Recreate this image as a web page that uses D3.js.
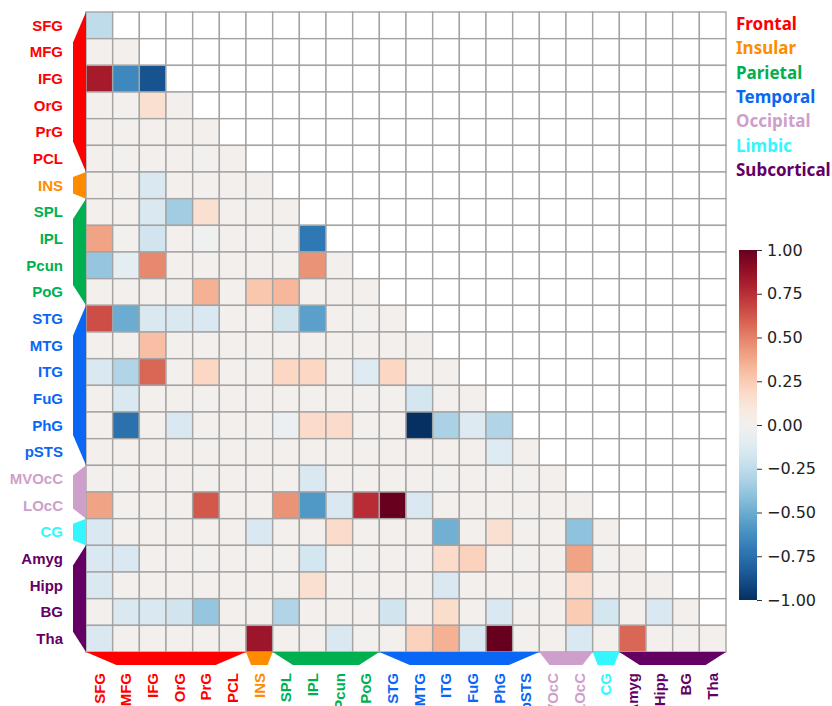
<!DOCTYPE html>
<html lang="en">
<head>
  <meta charset="UTF-8">
  <title>connectivity matrix</title>
  <style>
body { margin: 0; background: #fff; }
svg { display: block; }
  </style>
</head>
<body>
<div id="wrapper"></div>
<script src="https://cdnjs.cloudflare.com/ajax/libs/d3/7.8.5/d3.min.js"></script>
<script>

// region labels, in matrix order
const regions = ["SFG", "MFG", "IFG", "OrG", "PrG", "PCL", "INS", "SPL", "IPL", "Pcun", "PoG",
  "STG", "MTG", "ITG", "FuG", "PhG", "pSTS", "MVOcC", "LOcC", "CG", "Amyg", "Hipp", "BG", "Tha"]

// bottom labels (the long ones run off the page edge in the original)
const bottomLabels = ["SFG", "MFG", "IFG", "OrG", "PrG", "PCL", "INS", "SPL", "IPL", "Pcun", "PoG",
  "STG", "MTG", "ITG", "FuG", "PhG", "pSTS", "MVOcC", "LOcC", "CG", "Amyg", "Hipp", "BG", "Tha"]

const groupNames = ["Frontal", "Insular", "Parietal", "Temporal", "Occipital", "Limbic", "Subcortical"]
const groupColors = ["#ff0000", "#ff8c00", "#00b050", "#0a66f5", "#cf9fcb", "#33f6ff", "#640064"]
// how many regions in each group
const groupSizes = [6, 1, 4, 6, 2, 1, 4]

// lower triangle incl. diagonal, one row per region
const rows = [
  [-0.25],
  [0.01, 0.01],
  [0.82, -0.65, -0.87],
  [0.01, 0.01, 0.15, 0.01],
  [0.01, 0.01, 0.01, 0.01, 0.01],
  [0.01, 0.01, 0.01, 0.01, 0.01, 0.01],
  [0.01, 0.01, -0.15, 0.01, 0.01, 0.01, 0.01],
  [0.01, 0.01, -0.15, -0.35, 0.15, 0.01, 0.01, 0.01],
  [0.4, 0.01, -0.18, 0.01, -0.02, 0.01, 0.01, 0.01, -0.72],
  [-0.38, -0.1, 0.48, 0.01, 0.01, 0.01, 0.01, 0.01, 0.45, 0.01],
  [0.01, 0.01, 0.01, 0.01, 0.35, 0.01, 0.27, 0.33, 0.01, 0.01, 0.01],
  [0.65, -0.5, -0.15, -0.15, -0.15, 0.01, 0.01, -0.18, -0.55, 0.01, 0.01, 0.01],
  [0.01, 0.01, 0.3, 0.01, 0.01, 0.01, 0.01, 0.01, 0.01, 0.01, 0.01, 0.01, 0.01],
  [-0.15, -0.3, 0.58, 0.01, 0.2, 0.01, 0.01, 0.2, 0.2, 0.01, -0.12, 0.2, 0.01, 0.01],
  [0.01, -0.15, 0.01, 0.01, 0.01, 0.01, 0.01, 0.01, 0.01, 0.01, 0.01, 0.01, -0.17, 0.01, 0.01],
  [0.01, -0.75, 0.01, -0.15, 0.01, 0.01, 0.01, -0.05, 0.18, 0.18, 0.01, 0.01, -1.0, -0.32, -0.13, -0.3],
  [0.01, 0.01, 0.01, 0.01, 0.01, 0.01, 0.01, 0.01, 0.01, 0.01, 0.01, 0.01, 0.01, 0.01, 0.01, -0.12, 0.01],
  [0.01, 0.01, 0.01, 0.01, 0.01, 0.01, 0.01, 0.01, -0.15, 0.01, 0.01, 0.01, 0.01, 0.01, 0.01, 0.01, 0.01, 0.01],
  [0.4, 0.01, 0.01, 0.01, 0.62, 0.01, 0.01, 0.45, -0.58, -0.15, 0.75, 1.0, -0.15, 0.01, 0.01, 0.01, 0.01, 0.01, 0.01],
  [-0.15, 0.01, 0.01, 0.01, 0.01, 0.01, -0.15, 0.01, 0.01, 0.18, 0.01, 0.01, 0.01, -0.48, 0.01, 0.15, 0.01, 0.01, -0.4, 0.01],
  [-0.15, -0.15, 0.01, 0.01, 0.01, 0.01, 0.01, 0.01, -0.17, 0.01, 0.01, 0.01, 0.01, 0.18, 0.22, 0.01, 0.01, 0.01, 0.4, 0.01, 0.01],
  [-0.15, 0.01, 0.01, 0.01, 0.01, 0.01, 0.01, 0.01, 0.15, 0.01, 0.01, 0.01, 0.01, -0.15, 0.01, 0.01, 0.01, 0.01, 0.18, 0.01, 0.01, 0.01],
  [0.01, -0.15, -0.15, -0.18, -0.38, 0.01, 0.01, -0.3, 0.01, 0.01, 0.01, -0.18, 0.01, 0.17, 0.01, -0.15, 0.01, 0.01, 0.25, -0.17, 0.01, -0.15, 0.01],
  [-0.15, 0.01, 0.01, 0.01, 0.01, 0.01, 0.85, 0.01, 0.01, -0.15, 0.01, 0.01, 0.22, 0.35, -0.15, 1.0, 0.01, 0.01, -0.15, 0.01, 0.58, 0.01, 0.01, 0.01]
]

const colorbarTicks = [-1, -0.75, -0.5, -0.25, 0, 0.25, 0.5, 0.75, 1]

// 1. dimensions
const dimensions = {
  width: 832,
  height: 706,
  gridLeft: 86,
  gridTop: 12,
  gridSize: 640,
}

// 2. canvas
const svg = d3.select("#wrapper")
  .append("svg")
  .attr("width", dimensions.width)
  .attr("height", dimensions.height)

// 3. scales
const xScale = d3.scaleBand()
  .domain(d3.range(regions.length))
  .range([dimensions.gridLeft, dimensions.gridLeft + dimensions.gridSize])

const yScale = d3.scaleBand()
  .domain(d3.range(regions.length))
  .range([dimensions.gridTop, dimensions.gridTop + dimensions.gridSize])

const colorScale = d3.scaleSequential(d3.interpolateRdBu).domain([1, -1])

// group of each region
const regionGroup = []
groupSizes.forEach((n, g) => { for (let k = 0; k < n; k++) regionGroup.push(g) })

// 4. cells - full grid, upper triangle left white
const cells = []
regions.forEach((r, i) => {
  regions.forEach((c, j) => {
    cells.push({ i: i, j: j, v: j <= i ? rows[i][j] : null })
  })
})

svg.append("g")
  .selectAll("rect")
  .data(cells)
  .join("rect")
  .attr("x", d => xScale(d.j))
  .attr("y", d => yScale(d.i))
  .attr("width", xScale.bandwidth())
  .attr("height", yScale.bandwidth())
  .attr("fill", d => d.v === null ? "#ffffff" : colorScale(d.v))
  .attr("stroke", "#a4a4a4")
  .attr("stroke-width", 1.4)

// 5. group brackets on left and bottom
const bw = xScale.bandwidth()
const groups = []
let start = 0
groupSizes.forEach((n, g) => {
  groups.push({ g: g, start: start, end: start + n })
  start += n
})

const gridBottom = dimensions.gridTop + dimensions.gridSize
const bracketDepth = 13

svg.append("g")
  .selectAll("polygon")
  .data(groups)
  .join("polygon")
  .attr("points", d => {
    const y0 = yScale(d.start), y1 = yScale(d.start) + (d.end - d.start) * bw
    const t = (y1 - y0) * 0.19
    const x = dimensions.gridLeft
    return [[x, y0], [x - bracketDepth, y0 + t], [x - bracketDepth, y1 - t], [x, y1]].join(" ")
  })
  .attr("fill", d => groupColors[d.g])

svg.append("g")
  .selectAll("polygon")
  .data(groups)
  .join("polygon")
  .attr("points", d => {
    const x0 = xScale(d.start), x1 = xScale(d.start) + (d.end - d.start) * bw
    const t = (x1 - x0) * 0.19
    const y = gridBottom
    return [[x0, y], [x0 + t, y + bracketDepth], [x1 - t, y + bracketDepth], [x1, y]].join(" ")
  })
  .attr("fill", d => groupColors[d.g])

// 6. labels
svg.append("g")
  .selectAll("text")
  .data(regions)
  .join("text")
  .attr("x", 63)
  .attr("y", (d, i) => yScale(i) + bw / 2)
  .attr("dy", "0.36em")
  .attr("text-anchor", "end")
  .style("font-family", "'Liberation Sans', Arial, sans-serif")
  .style("font-weight", "bold")
  .style("font-size", "15px")
  .attr("fill", (d, i) => groupColors[regionGroup[i]])
  .text(d => d)

svg.append("g")
  .selectAll("text")
  .data(bottomLabels)
  .join("text")
  .attr("transform", (d, i) => `translate(${xScale(i) + bw / 2},673) rotate(-90)`)
  .attr("dy", "0.36em")
  .attr("text-anchor", "end")
  .style("font-family", "'Liberation Sans', Arial, sans-serif")
  .style("font-weight", "bold")
  .style("font-size", "15px")
  .attr("fill", (d, i) => groupColors[regionGroup[i]])
  .text(d => d)

// legend
svg.append("g")
  .selectAll("text")
  .data(groupNames)
  .join("text")
  .attr("x", 736)
  .attr("y", (d, i) => 30 + i * 24.3)
  .style("font-family", "'Noto Sans', sans-serif")
  .style("font-weight", "bold")
  .style("font-size", "17px")
  .attr("fill", (d, i) => groupColors[i])
  .text(d => d)

// 7. colorbar
const cb = { x: 739, width: 18, top: 250, bottom: 600 }
const cbScale = d3.scaleLinear().domain([-1, 1]).range([cb.bottom, cb.top])

const defs = svg.append("defs")
const grad = defs.append("linearGradient")
  .attr("id", "cbgrad")
  .attr("x1", 0).attr("y1", 1).attr("x2", 0).attr("y2", 0)
d3.range(0, 1.0001, 0.05).forEach(t => {
  grad.append("stop")
    .attr("offset", t)
    .attr("stop-color", colorScale(-1 + 2 * t))
})

svg.append("rect")
  .attr("x", cb.x)
  .attr("y", cb.top)
  .attr("width", cb.width)
  .attr("height", cb.bottom - cb.top)
  .attr("fill", "url(#cbgrad)")

const cbAxis = svg.append("g")
  .attr("transform", `translate(${cb.x + cb.width},0)`)
  .call(d3.axisRight(cbScale)
    .tickValues(colorbarTicks)
    .tickFormat(d3.format(".2f"))
    .tickSize(5)
    .tickPadding(5))

cbAxis.select(".domain").remove()
cbAxis.selectAll("line").attr("stroke", "#333")
cbAxis.selectAll("text")
  .style("font-family", "'DejaVu Sans', sans-serif")
  .style("font-size", "16px")
  .attr("fill", "#222")

</script>
</body>
</html>
